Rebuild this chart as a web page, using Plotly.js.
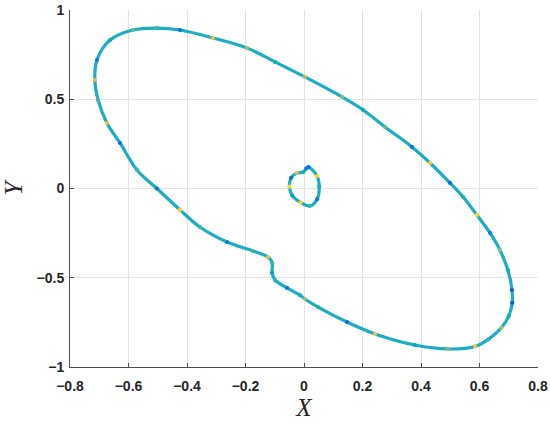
<!DOCTYPE html>
<html>
<head>
<meta charset="utf-8">
<script src="https://cdn.plot.ly/plotly-3.0.1.min.js"></script>
<style>html,body{margin:0;padding:0;background:#fff;}#chart{width:550px;height:425px;}</style>
</head>
<body>
<div id="chart"></div>
<script>
// Outer closed curve, ordered clockwise from the top
var outerX = [-0.503,-0.424,-0.311,-0.195,-0.099,0.003,0.130,0.202,0.277,0.369,0.431,0.499,0.544,0.591,0.636,0.670,0.697,0.711,0.712,0.700,0.675,0.630,0.585,0.492,0.379,0.243,0.147,0.048,0.003,-0.014,-0.058,-0.099,-0.109,-0.109,-0.123,-0.174,-0.263,-0.356,-0.424,-0.503,-0.571,-0.629,-0.674,-0.704,-0.715,-0.708,-0.663,-0.585];
var outerY = [0.899,0.888,0.843,0.787,0.709,0.625,0.513,0.440,0.345,0.233,0.143,0.031,-0.048,-0.148,-0.249,-0.345,-0.457,-0.569,-0.640,-0.715,-0.780,-0.845,-0.885,-0.899,-0.877,-0.815,-0.748,-0.664,-0.619,-0.597,-0.557,-0.513,-0.473,-0.417,-0.384,-0.350,-0.300,-0.216,-0.120,0.000,0.104,0.255,0.367,0.496,0.608,0.720,0.832,0.888];
var outerC = [0.45,0.15,0.75,0.6,0.4,0.65,0.55,0.4,0.5,0.15,0.8,0.15,0.4,0.85,0.2,0.55,0.35,0.1,0.1,0.4,0.6,0.45,0.75,0.55,0.35,0.75,0.15,0.4,0.6,0.4,0.2,0.4,0.3,0.45,0.7,0.45,0.2,0.45,0.8,0.15,0.45,0.15,0.75,0.45,0.7,0.2,0.4,0.5];

// Inner small loop
var innerX = [0.015,0.045,0.052,0.045,0.020,-0.012,-0.040,-0.050,-0.044,-0.024,-0.003,0.008];
var innerY = [0.120,0.070,0.010,-0.060,-0.098,-0.078,-0.040,0.010,0.060,0.087,0.092,0.113];
var innerC = [0.15,0.8,0.4,0.2,0.45,0.8,0.35,0.85,0.15,0.7,0.4,0.2];

var xTicks = [-0.8,-0.6,-0.4,-0.2,0,0.2,0.4,0.6,0.8];
var yTicks = [-1,-0.5,0,0.5,1];

var parula = [
  [0.0,'rgb(53,42,135)'],[0.1,'rgb(15,92,221)'],[0.2,'rgb(18,125,216)'],
  [0.3,'rgb(7,156,207)'],[0.4,'rgb(21,177,180)'],[0.5,'rgb(89,189,140)'],
  [0.6,'rgb(165,190,107)'],[0.7,'rgb(225,185,82)'],[0.8,'rgb(252,206,46)'],
  [1.0,'rgb(249,251,14)']
];

function closed(a){ return a.concat([a[0]]); }
function lbl(v){ return v===0 ? '0' : (v<0 ? '\u2212' : '') + Math.abs(v); }
var baseCol = 'rgb(28,172,196)';

var traces = [
  {x: closed(outerX), y: closed(outerY), mode:'lines', type:'scatter',
   line:{color:baseCol, width:3.2, shape:'spline', smoothing:1}, hoverinfo:'skip', showlegend:false},
  {x: closed(innerX), y: closed(innerY), mode:'lines', type:'scatter',
   line:{color:baseCol, width:3.2, shape:'spline', smoothing:1}, hoverinfo:'skip', showlegend:false},
  {x: outerX, y: outerY, mode:'markers', type:'scatter',
   marker:{size:4.2, color:outerC, colorscale:parula, cmin:0, cmax:1, line:{width:0}}, showlegend:false},
  {x: innerX, y: innerY, mode:'markers', type:'scatter',
   marker:{size:4.2, color:innerC, colorscale:parula, cmin:0, cmax:1, line:{width:0}}, showlegend:false}
];

var tickFont = {family:'Liberation Sans, Arial, sans-serif', size:14, color:'#262626', weight:'bold'};
var axisCommon = {
  showgrid:true, gridcolor:'#e3e3e3', gridwidth:1, zeroline:false,
  showline:true, linecolor:'#4d4d4d', linewidth:1,
  ticks:'inside', ticklen:4, tickcolor:'#4d4d4d', tickfont:tickFont
};

var layout = {
  width:550, height:425,
  margin:{l:70, r:12, t:10, b:58},
  paper_bgcolor:'#fff', plot_bgcolor:'#fff',
  xaxis: Object.assign({}, axisCommon, {
    range:[-0.8,0.8], tickvals:xTicks, ticktext: xTicks.map(lbl), ticklabelstandoff:6,
    title:{text:'X', font:{family:'Liberation Serif, Times New Roman, serif', size:25, style:'italic', color:'#262626'}, standoff:2}
  }),
  yaxis: Object.assign({}, axisCommon, {
    range:[-1,1], tickvals:yTicks, ticktext: yTicks.map(lbl), ticklabelstandoff:2,
    title:{text:'Y', font:{family:'Liberation Serif, Times New Roman, serif', size:25, style:'italic', color:'#262626'}, standoff:12}
  }),
  showlegend:false
};

Plotly.newPlot('chart', traces, layout, {displayModeBar:false, staticPlot:true});
</script>
</body>
</html>
